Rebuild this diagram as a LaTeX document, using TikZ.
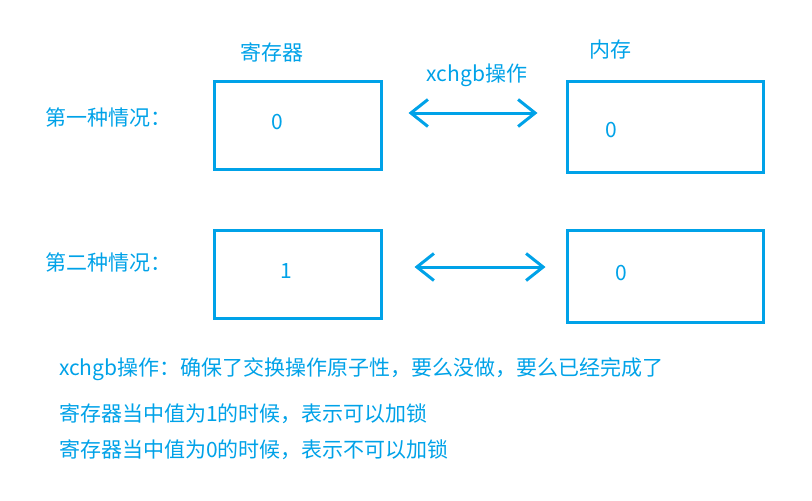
\documentclass[tikz,border=0pt]{standalone}
\usepackage{fontspec}
\newfontfamily\cjk{Noto Sans CJK SC}
\usetikzlibrary{arrows.meta,calc}
\definecolor{paintblue}{RGB}{0,162,232}
\begin{document}
\begin{tikzpicture}[x=1pt,y=-1pt]
\tikzstyle{box}=[rectangle,draw=paintblue,line width=3pt,inner sep=0pt]
\tikzstyle{txt}=[text=paintblue,font=\cjk\fontsize{21}{25}\selectfont,inner sep=0pt]
\tikzstyle{swap}=[draw=paintblue,line width=3pt,{Straight Barb[length=17pt,width=27pt]}-{Straight Barb[length=17pt,width=27pt]}]
\useasboundingbox (0,0) rectangle (812,501);
\node[box,minimum width=167pt,minimum height=88pt](reg1) at (297.5,125) {};
\node[box,minimum width=196pt,minimum height=91pt](mem1) at (665,126.5) {};
\node[box,minimum width=167pt,minimum height=88pt](reg2) at (297.5,274) {};
\node[box,minimum width=196pt,minimum height=92pt](mem2) at (665,276) {};

\node[txt](reglabel) at (272,52) {寄存器};
\node[txt](memlabel) at (610,50) {内存};
\node[txt](op) at (477,75) {xchgb操作};
\node[txt,anchor=west](case1) at (45,117) {第一种情况：};
\node[txt,anchor=west](case2) at (45,262) {第二种情况：};
\node[txt](r1) at (277,122) {0};
\node[txt](m1) at (611,130) {0};
\node[txt](r2) at (286,271) {1};
\node[txt](m2) at (621,273) {0};

\node[txt,anchor=west](note1) at (59,369) {xchgb操作：确保了交换操作原子性，要么没做，要么已经完成了};
\node[txt,anchor=west](note2) at (59,414) {寄存器当中值为1的时候，表示可以加锁};
\node[txt,anchor=west](note3) at (59,450) {寄存器当中值为0的时候，表示不可以加锁};

\coordinate (a1) at ($(reg1.east)+(26,-12)$);
\coordinate (b1) at ($(mem1.west)+(-28,-13.5)$);
\coordinate (a2) at ($(reg2.east)+(32,-7)$);
\coordinate (b2) at ($(mem2.west)+(-20,-9)$);
\draw[swap] (a1) -- (b1);
\draw[swap] (a2) -- (b2);
\end{tikzpicture}
\end{document}
